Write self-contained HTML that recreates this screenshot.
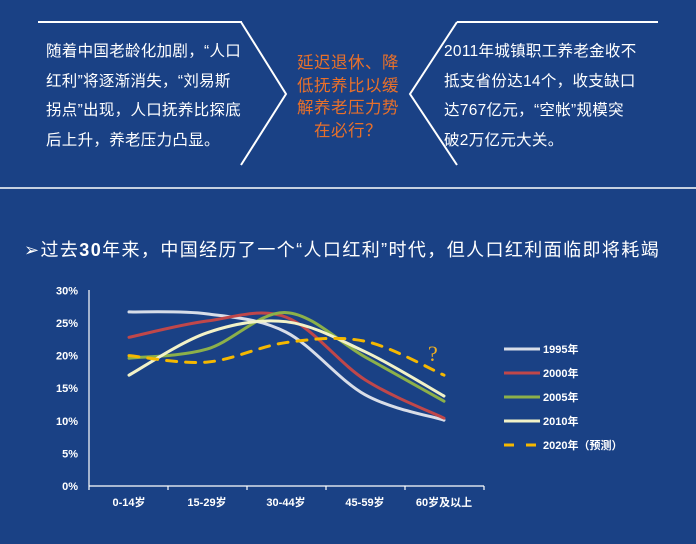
<!DOCTYPE html>
<html><head><meta charset="utf-8"><style>
body{margin:0;background:#1a4185;width:696px;height:544px;overflow:hidden;font-family:"Liberation Sans","Noto Sans CJK SC",sans-serif;color:#fff}
.t{position:absolute;font-size:15.5px;line-height:29.7px;white-space:nowrap;letter-spacing:0.3px}
</style></head><body>
<svg width="696" height="544" style="position:absolute;left:0;top:0">
<line x1="38" y1="22" x2="242" y2="22" stroke="#fff" stroke-width="2"/>
<polyline points="241,22 286,94 241,165" fill="none" stroke="#fff" stroke-width="2"/>
<line x1="457" y1="22" x2="658" y2="22" stroke="#fff" stroke-width="2"/>
<polyline points="457,22 410,94 457,165" fill="none" stroke="#fff" stroke-width="2"/>
<line x1="0" y1="188" x2="696" y2="188" stroke="#fff" stroke-width="1.5"/>
<g stroke="#fff" stroke-width="1.2">
<line x1="89" y1="290" x2="89" y2="486"/><line x1="89" y1="486" x2="484" y2="486"/>
<line x1="89" y1="486" x2="89" y2="490"/><line x1="168" y1="486" x2="168" y2="490"/><line x1="247" y1="486" x2="247" y2="490"/><line x1="326" y1="486" x2="326" y2="490"/><line x1="405" y1="486" x2="405" y2="490"/><line x1="484" y1="486" x2="484" y2="490"/>
</g>
<g id="yl" font-size="11" font-weight="bold" fill="#fff" text-anchor="end" font-family="Liberation Sans,sans-serif"></g>
<g font-size="11" font-weight="bold" fill="#fff" text-anchor="middle">
<text x="129" y="506">0-14岁</text><text x="207" y="506">15-29岁</text><text x="286" y="506">30-44岁</text><text x="365" y="506">45-59岁</text><text x="444" y="506">60岁及以上</text>
</g>
<g id="lines" fill="none" stroke-width="3" stroke-linecap="round"></g>
<text x="428" y="361" fill="#f0b020" font-size="22" font-family="Liberation Serif,serif">?</text>
<g stroke-width="3">
<line x1="504" y1="349" x2="540" y2="349" stroke="#d8dde8"/>
<line x1="504" y1="373" x2="540" y2="373" stroke="#c0474a"/>
<line x1="504" y1="397" x2="540" y2="397" stroke="#8cb04a"/>
<line x1="504" y1="421" x2="540" y2="421" stroke="#f2f2c8"/>
<line x1="504" y1="445" x2="540" y2="445" stroke="#f5b800" stroke-dasharray="10,12"/>
</g>
<g font-size="11" font-weight="bold" fill="#fff">
<text x="543" y="353">1995年</text><text x="543" y="377">2000年</text><text x="543" y="401">2005年</text><text x="543" y="425">2010年</text><text x="543" y="449">2020年（预测）</text>
</g>
</svg>
<div class="t" style="left:46px;top:37px">随着中国老龄化加剧，“人口<br>红利”将逐渐消失，“刘易斯<br>拐点”出现，人口抚养比探底<br>后上升，养老压力凸显。</div>
<div class="t" style="left:287px;top:52px;width:122px;color:#e8702a;font-size:16.5px;line-height:22.5px;text-align:center;letter-spacing:0.5px">延迟退休、降<br>低抚养比以缓<br>解养老压力势<br>在必行？</div>
<div class="t" style="left:444px;top:37px">2011年城镇职工养老金收不<br>抵支省份达14个，收支缺口<br>达767亿元，“空帐”规模突<br>破2万亿元大关。</div>
<div class="t" style="left:24px;top:238px;font-size:18px;letter-spacing:1.4px;line-height:24px">➢过去<b>30</b>年来，中国经历了一个“人口红利”时代，但人口红利面临即将耗竭</div>
<script>
var yl=document.getElementById('yl');
for(var i=0;i<=6;i++){var t=document.createElementNS('http://www.w3.org/2000/svg','text');t.setAttribute('x',78);t.setAttribute('y',486-i*32.6+4);t.textContent=(i*5)+'%';yl.appendChild(t);}
var X=[129,207,286,365,444];
var S=[
{c:'#d8dde8',v:[26.7,26.4,23.6,14,10.1]},
{c:'#c0474a',v:[22.8,25.3,25.9,16.3,10.4]},
{c:'#8cb04a',v:[19.6,21,26.6,19.8,13]},
{c:'#f2f2c8',v:[17,23.5,25.2,20.6,13.8]},
{c:'#f5b800',v:[20,19,22,22.2,17],d:'10,9'}];
var g=document.getElementById('lines');
S.forEach(function(s){
var p=X.map(function(x,i){return [x,486-s.v[i]*6.52]});
var d='M'+p[0][0]+','+p[0][1];
for(var i=0;i<p.length-1;i++){var a=p[i-1]||p[i],b=p[i],c=p[i+1],e=p[i+2]||c;
d+=' C'+(b[0]+(c[0]-a[0])/6)+','+(b[1]+(c[1]-a[1])/6)+' '+(c[0]-(e[0]-b[0])/6)+','+(c[1]-(e[1]-b[1])/6)+' '+c[0]+','+c[1];}
var el=document.createElementNS('http://www.w3.org/2000/svg','path');el.setAttribute('d',d);el.setAttribute('stroke',s.c);if(s.d)el.setAttribute('stroke-dasharray',s.d);g.appendChild(el);});
</script>
</body></html>
